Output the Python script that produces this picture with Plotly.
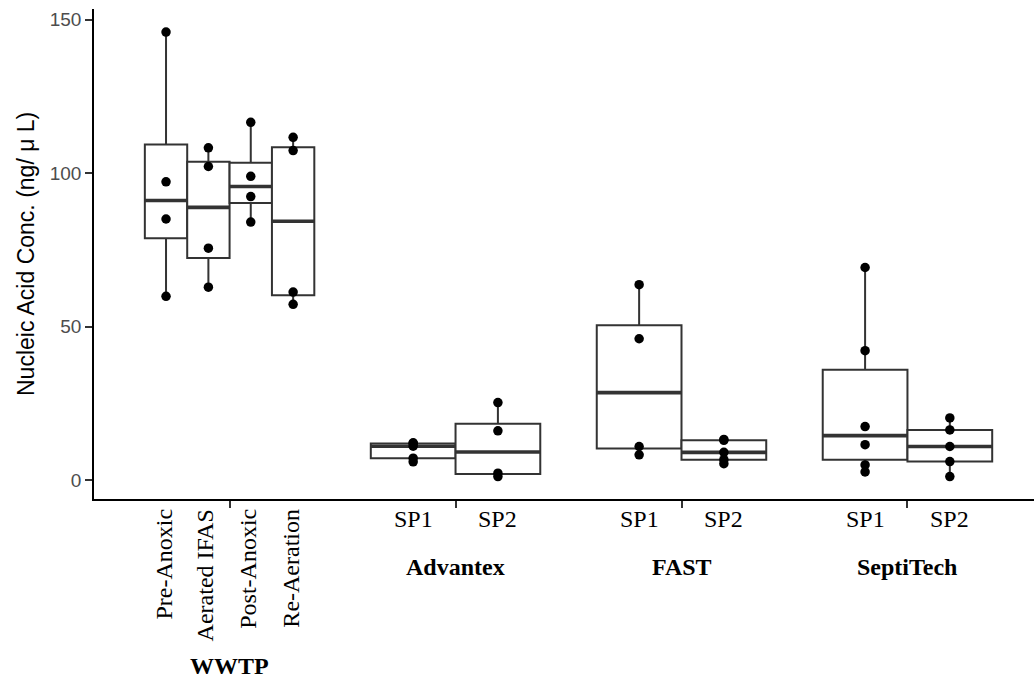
import numpy as np
import plotly.graph_objects as go

# ---------------- data ----------------
groups = ["WWTP", "Advantex", "FAST", "SeptiTech"]
wwtp_sub = ["Pre-Anoxic", "Aerated IFAS", "Post-Anoxic", "Re-Aeration"]
sp_sub = ["SP1", "SP2"]

pre_anoxic = [146.0, 97.2, 85.1, 59.9]
aerated_ifas = [108.3, 102.2, 75.6, 62.9]
post_anoxic = [116.6, 99.0, 92.4, 84.1]
re_aeration = [111.7, 107.4, 61.3, 57.3]
advantex_sp1 = [12.2, 12.0, 11.1, 7.2, 6.0]
advantex_sp2 = [25.3, 16.1, 2.3, 1.2]
fast_sp1 = [63.7, 46.1, 11.0, 8.3]
fast_sp2 = [13.3, 13.0, 9.1, 6.7, 5.4]
septitech_sp1 = [69.3, 42.2, 17.5, 11.6, 5.0, 2.7]
septitech_sp2 = [20.3, 16.4, 11.0, 6.1, 1.2]

y_ticks = [0, 50, 100, 150]
y_title = "Nucleic Acid Conc. (ng/ \u03bc L)"

series = {
    "WWTP": [pre_anoxic, aerated_ifas, post_anoxic, re_aeration],
    "Advantex": [advantex_sp1, advantex_sp2],
    "FAST": [fast_sp1, fast_sp2],
    "SeptiTech": [septitech_sp1, septitech_sp2],
}
sublabels = {
    "WWTP": wwtp_sub,
    "Advantex": sp_sub,
    "FAST": sp_sub,
    "SeptiTech": sp_sub,
}

# ---------------- styling ----------------
BOX_LINE = "#333333"
DODGE = 0.75
W, H = 1034, 679
ML, MR, MT, MB = 94, 0, 9, 180
PH = H - MT - MB
SERIF = "Liberation Serif, Times New Roman, serif"
SANS = "Liberation Sans, Arial, sans-serif"


def py2paper(py):
    return (H - MB - py) / PH


def stats(vals):
    v = np.sort(np.asarray(vals, dtype=float))
    q1, med, q3 = np.percentile(v, [25, 50, 75])
    iqr = q3 - q1
    lo = v[v >= q1 - 1.5 * iqr].min()
    hi = v[v <= q3 + 1.5 * iqr].max()
    return q1, med, q3, lo, hi


fig = go.Figure()
median_traces = []
point_traces = []
annotations = []

for gi, g in enumerate(groups):
    center = gi + 1
    subs = series[g]
    n = len(subs)
    w = DODGE / n
    for si, vals in enumerate(subs):
        xc = center - DODGE / 2 + w / 2 + si * w
        q1, med, q3, lo, hi = stats(vals)
        fig.add_trace(go.Box(
            x=[xc], q1=[q1], median=[med], q3=[q3],
            lowerfence=[lo], upperfence=[hi],
            width=w, fillcolor="white",
            line=dict(color=BOX_LINE, width=2),
            whiskerwidth=0, boxpoints=False,
            showlegend=False, hoverinfo="skip",
        ))
        median_traces.append(go.Scatter(
            x=[xc - w / 2, xc + w / 2], y=[med, med], mode="lines",
            line=dict(color=BOX_LINE, width=3.6),
            showlegend=False, hoverinfo="skip",
        ))
        point_traces.append(go.Scatter(
            x=[xc] * len(vals), y=vals, mode="markers",
            marker=dict(color="black", size=9.5),
            showlegend=False, hoverinfo="skip",
        ))
        lab = sublabels[g][si]
        if g == "WWTP":
            annotations.append(dict(
                x=xc, xref="x", y=py2paper(507), yref="paper",
                text=lab, textangle=-90, showarrow=False,
                xanchor="center", yanchor="top", xshift=-3,
                font=dict(family=SERIF, size=24, color="black"),
            ))
        else:
            annotations.append(dict(
                x=xc, xref="x", y=py2paper(518.5), yref="paper",
                text=lab, showarrow=False,
                xanchor="center", yanchor="middle",
                font=dict(family=SERIF, size=24, color="black"),
            ))
    gy = 666 if g == "WWTP" else 567
    annotations.append(dict(
        x=center, xref="x", y=py2paper(gy), yref="paper",
        text="<b>%s</b>" % g, showarrow=False,
        xanchor="center", yanchor="middle",
        font=dict(family=SERIF, size=24, color="black"),
    ))

annotations.append(dict(
    x=(26 - ML) / (W - ML - MR), xref="paper", y=0.5, yref="paper",
    text=y_title, textangle=-90, showarrow=False,
    xanchor="center", yanchor="middle",
    font=dict(family=SANS, size=23, color="black"),
))

for t in median_traces + point_traces:
    fig.add_trace(t)

fig.update_layout(
    width=W, height=H,
    margin=dict(l=ML, r=MR, t=MT, b=MB, pad=0),
    paper_bgcolor="white", plot_bgcolor="white",
    boxmode="overlay",
    showlegend=False,
    annotations=annotations,
    xaxis=dict(
        range=[0.4, 4.56], showgrid=False, zeroline=False,
        showline=True, linecolor="black", linewidth=1.5,
        ticks="outside", ticklen=7, tickwidth=1.5, tickcolor="#333333",
        tickvals=[1, 2, 3, 4], ticktext=["", "", "", ""],
    ),
    yaxis=dict(
        range=[-6.1, 153.5], showgrid=False, zeroline=False,
        showline=True, linecolor="black", linewidth=1.5,
        ticks="outside", ticklen=7, tickwidth=1.5, tickcolor="#333333",
        tickvals=y_ticks,
        tickfont=dict(family=SANS, size=19, color="#4d4d4d"),
    ),
)

fig.write_html("out.html")
